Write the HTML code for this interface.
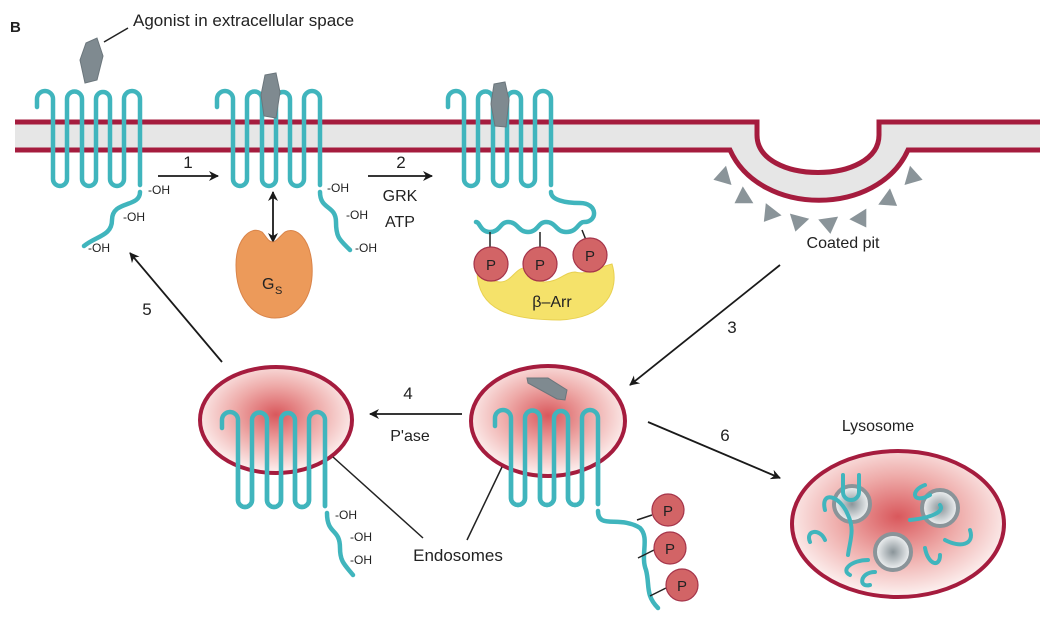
<!DOCTYPE html>
<html><head><meta charset="utf-8"><style>
html,body{margin:0;padding:0;background:#fff;}
svg{display:block;font-family:"Liberation Sans",sans-serif;}
</style></head><body>
<svg width="1052" height="628" viewBox="0 0 1052 628" xmlns="http://www.w3.org/2000/svg">
<defs>
<radialGradient id="rg" cx="50%" cy="45%" r="55%">
<stop offset="0" stop-color="#d9585c"/><stop offset="0.5" stop-color="#eeaaa8"/><stop offset="1" stop-color="#fdf3f2"/>
</radialGradient>
<radialGradient id="vg" cx="50%" cy="50%" r="50%">
<stop offset="0" stop-color="#8a9499"/><stop offset="1" stop-color="#f4f6f7"/>
</radialGradient>
<marker id="ah" markerWidth="10" markerHeight="10" refX="9" refY="5" orient="auto" markerUnits="userSpaceOnUse">
<path d="M0,0 L10,5 L0,10 L3,5 Z" fill="#1a1a1a"/></marker>
<marker id="ahs" markerWidth="10" markerHeight="10" refX="1" refY="5" orient="auto" markerUnits="userSpaceOnUse">
<path d="M10,0 L0,5 L10,10 L7,5 Z" fill="#1a1a1a"/></marker>
<path id="rec" d="M0,16 v-8 a8,8 0 0 1 16,0 v80 a7,7 0 0 0 14,0 v-80 a7.5,7.5 0 0 1 15,0 v80 a7,7 0 0 0 14,0 v-80 a7,7 0 0 1 14,0 v80 a7,7 0 0 0 14,0 v-80 a8,8 0 0 1 16,0 v86"/>
</defs>

<text x="10" y="32" font-size="15" font-weight="bold" fill="#222">B</text>
<text x="133" y="26" font-size="17" fill="#222">Agonist in extracellular space</text>
<line x1="104" y1="42" x2="128" y2="28" stroke="#222" stroke-width="1.5"/>

<!-- membrane -->
<path d="M15,122 H757 V135 C757,185 879,185 879,135 V122 H1040 V150 H908 C878,217 760,217 730,150 H15 Z" fill="#e6e6e6"/>
<path d="M15,122 H757 V135 C757,185 879,185 879,135 V122 H1040" fill="none" stroke="#a51c3e" stroke-width="5"/>
<path d="M15,150 H730 C760,217 878,217 908,150 H1040" fill="none" stroke="#a51c3e" stroke-width="5"/>

<!-- coat triangles -->
<g fill="#8a9499">
<polygon points="-10,-6 10,-6 0,10" transform="translate(723,177) rotate(74)"/>
<polygon points="-10,-6 10,-6 0,10" transform="translate(743,198) rotate(58)"/>
<polygon points="-10,-6 10,-6 0,10" transform="translate(770,214) rotate(38)"/>
<polygon points="-10,-6 10,-6 0,10" transform="translate(798,222) rotate(15)"/>
<polygon points="-10,-6 10,-6 0,10" transform="translate(829,224) rotate(-8)"/>
<polygon points="-10,-6 10,-6 0,10" transform="translate(861,219) rotate(-32)"/>
<polygon points="-10,-6 10,-6 0,10" transform="translate(889,200) rotate(-54)"/>
<polygon points="-10,-6 10,-6 0,10" transform="translate(913,177) rotate(-74)"/>
</g>
<text x="843" y="248" font-size="16" text-anchor="middle" fill="#222">Coated pit</text>

<!-- receptors -->
<g fill="none" stroke="#40b5bd" stroke-width="4.5" stroke-linecap="round">
<use href="#rec" transform="translate(37,91)"/>
<path d="M140,192 C140,208 112,200 112,220 C112,236 96,236 84,246"/>
<use href="#rec" transform="translate(217,91)"/>
<path d="M320,192 C320,210 336,205 336,222 C336,238 340,240 350,250"/>
<use href="#rec" transform="translate(448,91)"/>
<path d="M551,192 C551,200 565,203 580,203 C598,203 598,222 584,222 C578,222 578,232 566,232 C556,232 556,222 546,222 C538,222 538,232 528,232 C518,232 518,222 508,222 C500,222 500,232 490,232 C480,232 480,222 476,222"/>
<use href="#rec" transform="translate(222,412)"/>
<path d="M327,513 C327,535 340,528 340,548 C340,562 345,565 353,575"/>
<use href="#rec" transform="translate(495,410)"/>
<path d="M598,511 C598,530 620,515 640,528 C650,538 640,555 646,570 C650,585 645,595 658,608"/>
</g>

<!-- agonists -->
<g fill="#7f8a90" stroke="#6b767c" stroke-width="1">
<polygon points="86,43 97,38 103,56 97,80 85,83 80,60"/>
<polygon points="265,75 276,73 280,92 276,118 264,116 261,95"/>
<polygon points="494,84 505,82 509,100 506,127 495,126 491,104"/>
</g>

<!-- arrows -->
<g stroke="#1a1a1a" stroke-width="1.8" fill="none">
<line x1="158" y1="176" x2="218" y2="176" marker-end="url(#ah)"/>
<line x1="368" y1="176" x2="432" y2="176" marker-end="url(#ah)"/>
<line x1="273" y1="192" x2="273" y2="242" marker-end="url(#ah)" marker-start="url(#ahs)"/>
<line x1="780" y1="265" x2="630" y2="385" marker-end="url(#ah)"/>
<line x1="462" y1="414" x2="370" y2="414" marker-end="url(#ah)"/>
<line x1="222" y1="362" x2="130" y2="253" marker-end="url(#ah)"/>
<line x1="648" y1="422" x2="780" y2="478" marker-end="url(#ah)"/>
</g>
<g font-size="17" fill="#222" text-anchor="middle">
<text x="188" y="168">1</text>
<text x="401" y="168">2</text>
<text x="400" y="201" font-size="16">GRK</text>
<text x="400" y="227" font-size="16">ATP</text>
<text x="732" y="333">3</text>
<text x="408" y="399">4</text>
<text x="410" y="441" font-size="16">P'ase</text>
<text x="147" y="315">5</text>
<text x="725" y="441">6</text>
</g>
<g font-size="12" fill="#222">
<text x="148" y="194">-OH</text><text x="123" y="221">-OH</text><text x="88" y="252">-OH</text>
<text x="327" y="192">-OH</text><text x="346" y="219">-OH</text><text x="355" y="252">-OH</text>
</g>

<!-- Gs -->
<path d="M262,232 C250,225 236,240 236,265 C236,300 255,318 275,318 C300,318 314,295 312,265 C310,238 296,226 285,232 C280,236 276,242 273,242 C268,242 266,236 262,232 Z" fill="#ec9a5a" stroke="#d9844a" stroke-width="1"/>
<text x="262" y="289" font-size="16" fill="#222">G</text><text x="275" y="294" font-size="11" fill="#222">S</text>

<!-- beta arrestin -->
<path d="M477,272 C480,268 488,282 500,282 C512,282 515,268 525,268 C532,272 535,282 545,282 C558,282 565,272 575,272 C585,275 590,270 612,264 C620,290 606,318 560,320 C510,320 478,310 477,272 Z" fill="#f5e26a" stroke="#e8d050" stroke-width="1"/>
<text x="552" y="307" font-size="16" fill="#222" text-anchor="middle">β–Arr</text>
<g stroke="#222" stroke-width="1.5"><line x1="490" y1="232" x2="490" y2="247"/><line x1="540" y1="232" x2="540" y2="247"/><line x1="582" y1="230" x2="586" y2="240"/></g>
<g fill="#d26466" stroke="#a5344a" stroke-width="1.2">
<circle cx="491" cy="264" r="17"/><circle cx="540" cy="264" r="17"/><circle cx="590" cy="255" r="17"/>
</g>
<g font-size="15" fill="#222" text-anchor="middle"><text x="491" y="270">P</text><text x="540" y="270">P</text><text x="590" y="261">P</text></g>

<!-- endosomes -->
<ellipse cx="276" cy="420" rx="76" ry="53" fill="url(#rg)" stroke="#a51c3e" stroke-width="4"/>
<ellipse cx="548" cy="421" rx="77" ry="55" fill="url(#rg)" stroke="#a51c3e" stroke-width="4"/>
<g fill="none" stroke="#40b5bd" stroke-width="4.5" stroke-linecap="round">
<use href="#rec" transform="translate(222,412)"/>
<use href="#rec" transform="translate(495,410)"/>
</g>
<polygon points="527,378 548,378 567,390 565,400 557,399 528,383" fill="#7f8a90" stroke="#6b767c"/>
<g font-size="12" fill="#222">
<text x="335" y="519">-OH</text><text x="350" y="541">-OH</text><text x="350" y="564">-OH</text>
</g>
<g stroke="#222" stroke-width="1.5">
<line x1="333" y1="457" x2="423" y2="538"/><line x1="502" y1="467" x2="467" y2="540"/>
<line x1="637" y1="520" x2="652" y2="515"/><line x1="638" y1="558" x2="654" y2="550"/><line x1="650" y1="596" x2="666" y2="588"/>
</g>
<text x="458" y="561" font-size="17" fill="#222" text-anchor="middle">Endosomes</text>
<g fill="#d26466" stroke="#a5344a" stroke-width="1.2">
<circle cx="668" cy="510" r="16"/><circle cx="670" cy="548" r="16"/><circle cx="682" cy="585" r="16"/>
</g>
<g font-size="15" fill="#222" text-anchor="middle"><text x="668" y="516">P</text><text x="670" y="554">P</text><text x="682" y="591">P</text></g>

<!-- lysosome -->
<text x="878" y="431" font-size="16" fill="#222" text-anchor="middle">Lysosome</text>
<ellipse cx="898" cy="524" rx="106" ry="73" fill="url(#rg)" stroke="#a51c3e" stroke-width="4"/>
<g fill="url(#vg)" stroke="#8a9499" stroke-width="4">
<circle cx="852" cy="504" r="18"/><circle cx="940" cy="508" r="18"/><circle cx="893" cy="552" r="18"/>
</g>
<g fill="none" stroke="#40b5bd" stroke-width="4" stroke-linecap="round">
<path d="M843,475 V492 a8,8 0 0 0 16,0 V475"/>
<path d="M825,510 C820,490 840,495 848,515 C855,530 850,540 848,555"/>
<path d="M810,542 C805,530 820,528 825,540"/>
<path d="M925,485 C910,490 912,505 930,495"/>
<path d="M910,520 C930,518 945,512 940,505"/>
<path d="M850,575 C840,570 852,560 868,560"/>
<path d="M870,585 C858,588 860,572 875,572"/>
<path d="M925,548 C928,565 940,568 940,555"/>
<path d="M945,540 C960,548 975,545 970,530"/>
</g>
</svg>
</body></html>
